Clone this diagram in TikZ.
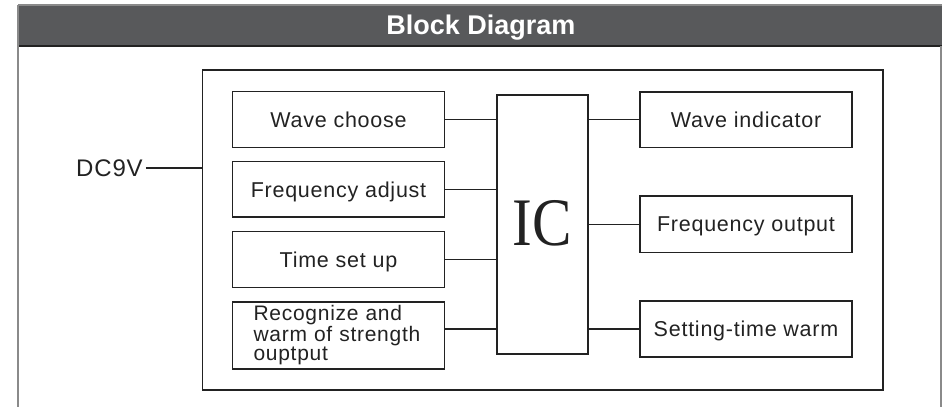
\documentclass[tikz,border=0pt]{standalone}
\usepackage{fontspec}
\setmainfont{Liberation Sans}[LetterSpace=3.5]
\newfontfamily\headfont{Liberation Sans}
\newfontfamily\icfont{Liberation Serif}
\definecolor{headgray}{HTML}{58595B}
\definecolor{framegray}{HTML}{8A8A8A}
\definecolor{ink}{HTML}{222222}
\tikzset{
  blk/.style={draw=ink, line width=1.5pt, minimum width=212pt, minimum height=55.6pt,
    inner sep=0pt, text height=15.3pt, text depth=0pt,
    font={\fontsize{21.5}{24}\selectfont}, text=ink},
  wire/.style={draw=ink, line width=1.2pt},
}
\begin{document}
\begin{tikzpicture}[x=1pt,y=-1pt]
\useasboundingbox (0,0) rectangle (942,407);
% frame and header
\fill[headgray] (18.3,5) rectangle (942,46);
\draw[framegray, line width=1.2pt] (18.3,5) -- (942,5);
\draw[ink, line width=1.2pt] (18.3,46) -- (942,46);
\draw[framegray, line width=2pt] (18.3,5) -- (18.3,407);
\draw[framegray, line width=2pt] (941,46) -- (941,407);
\node[font={\headfont\bfseries\fontsize{27}{30}\selectfont}, text=white, inner sep=0pt, text height=19.3pt, text depth=0pt] (title) at (481,24.7) {Block Diagram};
% outer box
\node[draw=ink, line width=1.6pt, minimum width=680.4pt, minimum height=320pt, inner sep=0pt] (outer) at (542.5,230) {};
% DC9V
\node[font={\fontsize{24}{28}\selectfont}, text=ink, inner sep=0pt, text height=17.2pt, text depth=0pt, anchor=west] (dc) at (76,168) {DC9V};
\draw[wire] ([xshift=3pt]dc.east) -- (outer.west |- dc.east);
% left blocks
\node[blk] (wc) at (338.5,119.5) {Wave choose};
\node[blk] (fa) at (338.5,189.4) {Frequency adjust};
\node[blk] (ts) at (338.5,259.5) {Time set up};
\node[blk, minimum height=67.3pt, text height=, text depth=, align=left, text width=170pt,
  font={\fontsize{21}{19.5}\selectfont}] (rec) at (338.5,335.4) {Recognize and\\warm of strength\\ouptput};
% IC
\node[draw=ink, line width=1.6pt, minimum width=91.3pt, minimum height=259.3pt, inner sep=0pt] (ic) at (542.4,224.4) {};
\node[inner sep=0pt, text=ink, font={\icfont\fontsize{68}{70}\selectfont}, text height=45pt, text depth=0pt, xscale=0.87] (ictext) at (542,222.5) {IC};
% right blocks
\node[blk] (wi) at (746,119.7) {Wave indicator};
\node[blk, minimum height=56.7pt] (fo) at (746,224.3) {Frequency output};
\node[blk, minimum height=56pt] (st) at (746,329) {Setting-time warm};
% wires left
\draw[wire] (wc.east) -- (ic.west |- wc.east);
\draw[wire] (fa.east) -- (ic.west |- fa.east);
\draw[wire] (ts.east) -- (ic.west |- ts.east);
\draw[wire] (rec.east |- st.west) -- (ic.west |- st.west);
% wires right
\draw[wire] (ic.east |- wi.west) -- (wi.west);
\draw[wire] (ic.east |- fo.west) -- (fo.west);
\draw[wire] (ic.east |- st.west) -- (st.west);
\end{tikzpicture}
\end{document}
